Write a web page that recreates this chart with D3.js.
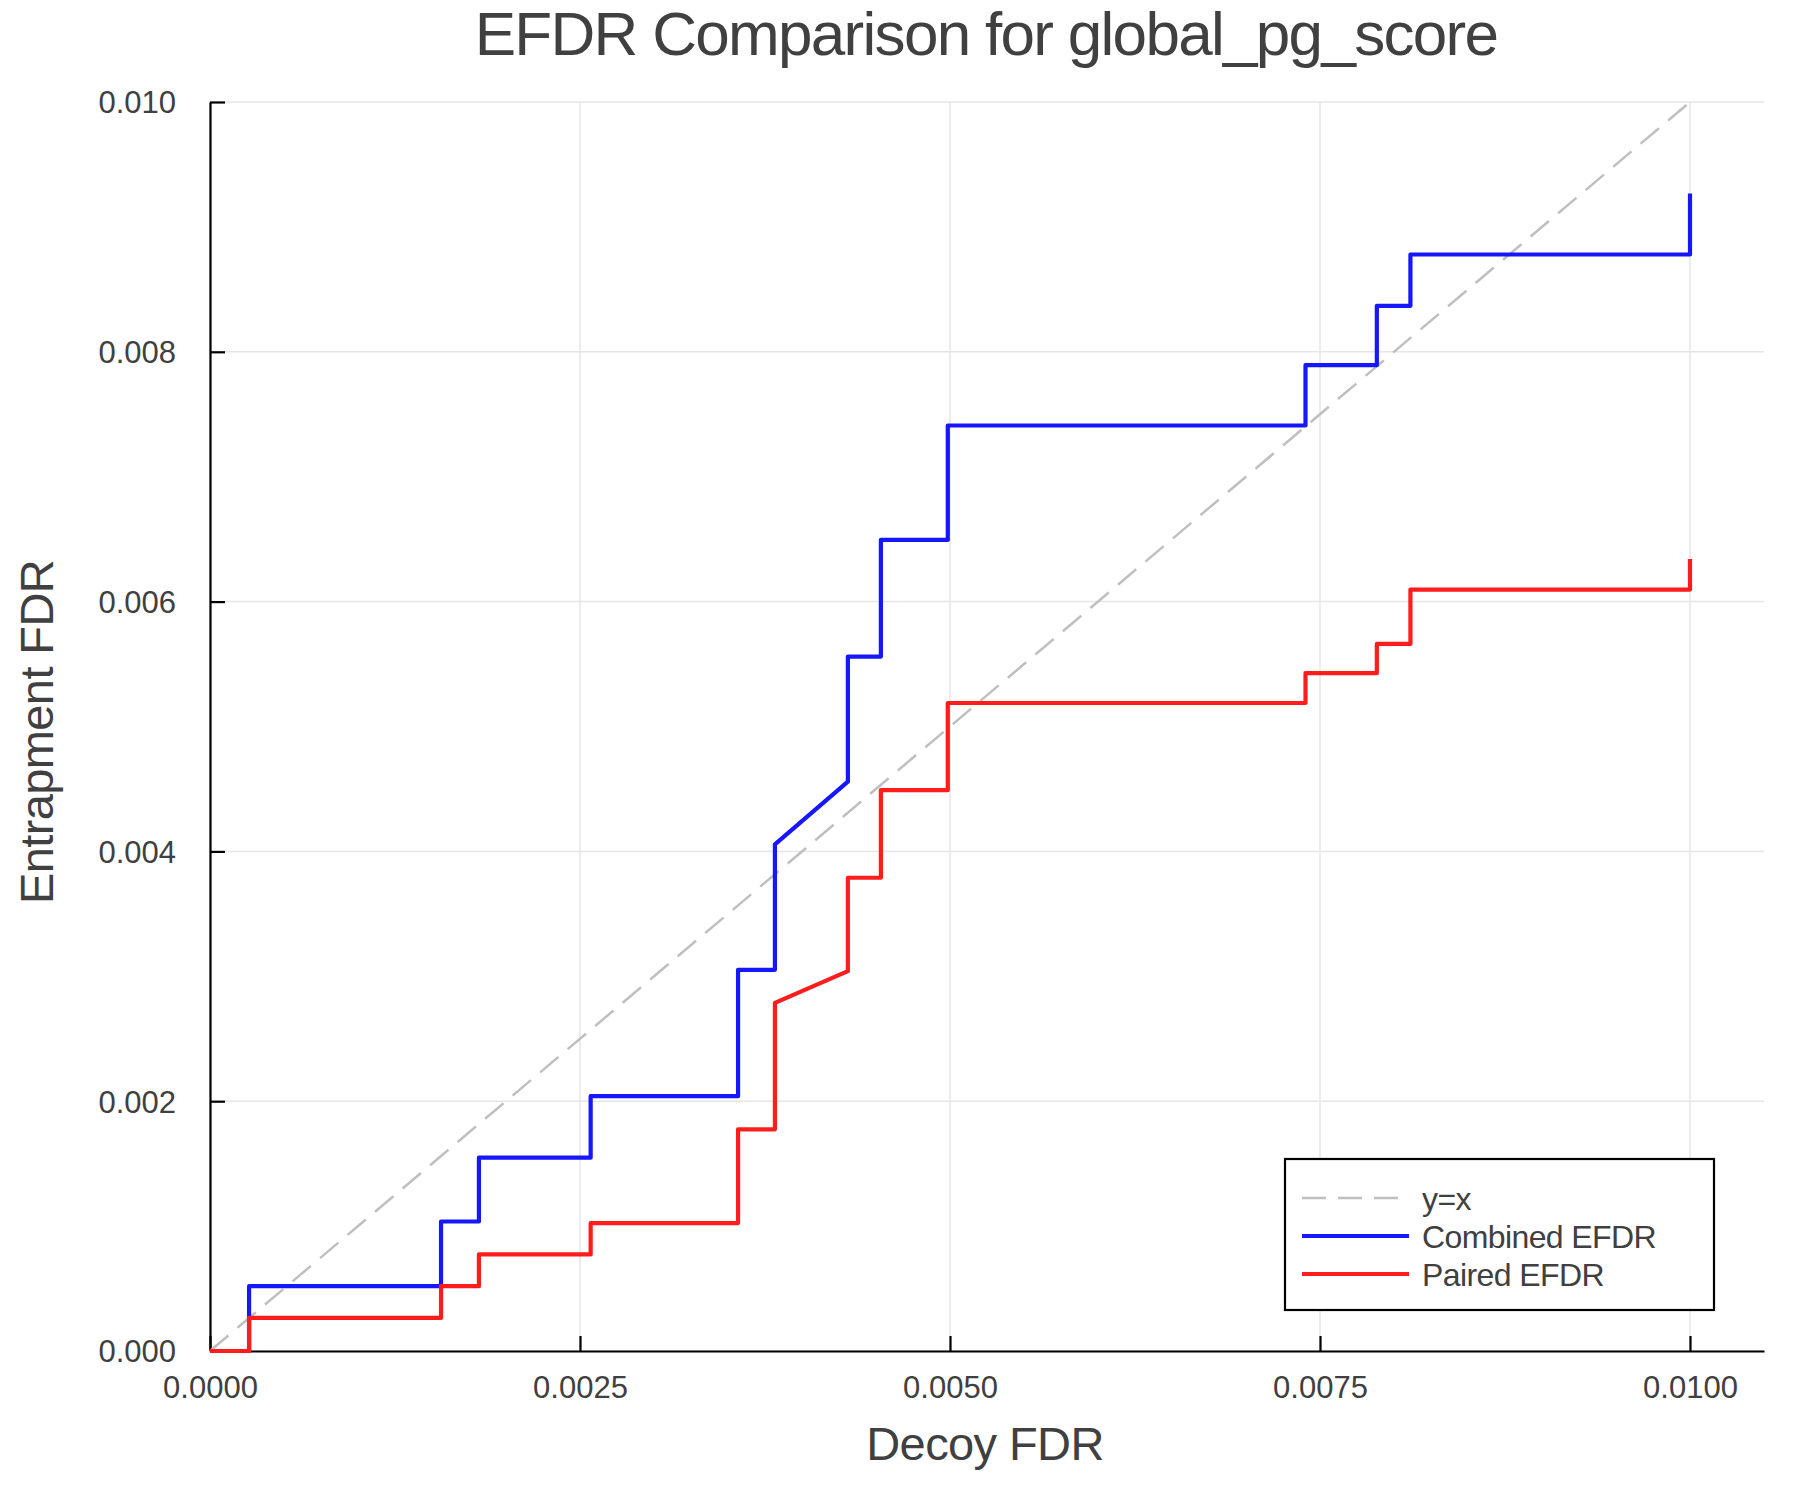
<!DOCTYPE html>
<html>
<head>
<meta charset="utf-8">
<script src="https://cdn.jsdelivr.net/npm/d3@7"></script>
<style>
  body { margin: 0; background: #fff; }
  text { font-family: "Liberation Sans", Arial, Helvetica, sans-serif; fill: #404040; }
</style>
</head>
<body>
<div id="chart"></div>
<script>
const width = 1800;
const height = 1500;
const margin = { top: 102, right: 36, bottom: 149, left: 210 };

// step vertices (shared decoy FDR x positions)
const decoyFdr = [
    0, 0.000264, 0.000264, 0.001561, 0.001561, 0.001817, 0.001817, 0.002572, 0.002572,
    0.003568, 0.003568, 0.003817, 0.003817, 0.004310, 0.004310, 0.004533, 0.004533,
    0.004985, 0.004985, 0.007402, 0.007402, 0.007884, 0.007884, 0.008111, 0.008111,
    0.010000, 0.010000
];
const combinedEfdr = [
    0, 0, 0.000519, 0.000519, 0.001037, 0.001037, 0.001548, 0.001548, 0.002040,
    0.002040, 0.003052, 0.003052, 0.004057, 0.004558, 0.005560, 0.005560, 0.006494,
    0.006494, 0.007410, 0.007410, 0.007893, 0.007893, 0.008368, 0.008368, 0.008779,
    0.008779, 0.009267
];
const pairedEfdr = [
    0, 0, 0.000265, 0.000265, 0.000519, 0.000519, 0.000773, 0.000773, 0.001024,
    0.001024, 0.001775, 0.001775, 0.002787, 0.003041, 0.003789, 0.003789, 0.004490,
    0.004490, 0.005188, 0.005188, 0.005427, 0.005427, 0.005661, 0.005661, 0.006096,
    0.006096, 0.006341
];
const diagonal = [0, 0.01];

const xTicks = [0, 0.0025, 0.005, 0.0075, 0.01];
const yTicks = [0, 0.002, 0.004, 0.006, 0.008, 0.01];

const seriesNames = ["y=x", "Combined EFDR", "Paired EFDR"];
const seriesColors = ["#bfbfbf", "#1616ff", "#ff1c1c"];

const svg = d3.select("#chart")
    .append("svg")
    .attr("width", width)
    .attr("height", height);

svg.append("rect").attr("width", width).attr("height", height).attr("fill", "#fff");

const x = d3.scaleLinear().domain([0, 0.0105]).range([margin.left, width - margin.right]);
const y = d3.scaleLinear().domain([0, 0.01]).range([height - margin.bottom, margin.top]);

// grid
const grid = svg.append("g");
grid.selectAll(".vg").data(xTicks).enter().append("line")
    .attr("x1", d => x(d)).attr("x2", d => x(d))
    .attr("y1", y.range()[1]).attr("y2", y.range()[0])
    .attr("stroke", "#e6e6e6").attr("stroke-width", 1.5);
grid.selectAll(".hg").data(yTicks).enter().append("line")
    .attr("y1", d => y(d)).attr("y2", d => y(d))
    .attr("x1", x.range()[0]).attr("x2", x.range()[1])
    .attr("stroke", "#e6e6e6").attr("stroke-width", 1.5);

// axes
const xAxis = svg.append("g")
    .attr("transform", `translate(0, ${height - margin.bottom})`)
    .call(d3.axisBottom(x).tickValues(xTicks).tickFormat(d3.format(".4f")).tickSize(-15).tickPadding(25).tickSizeOuter(0));
const yAxis = svg.append("g")
    .attr("transform", `translate(${margin.left}, 0)`)
    .call(d3.axisLeft(y).tickValues(yTicks).tickFormat(d3.format(".3f")).tickSize(-15).tickPadding(34).tickSizeOuter(0));

[xAxis, yAxis].forEach(g => {
    g.select(".domain").attr("stroke", "#000").attr("stroke-width", 2.2);
    g.selectAll(".tick line").attr("stroke", "#000").attr("stroke-width", 2.2);
    g.selectAll(".tick text")
        .attr("fill", "#404040")
        .style("font-size", "31px")
        .style("font-family", "'Liberation Sans', Arial, sans-serif");
});
xAxis.selectAll(".tick text").attr("dy", "0.71em");
yAxis.selectAll(".tick text").attr("dy", "0.35em");

// lines
const line = d3.line().x(d => x(d[0])).y(d => y(d[1]));

svg.append("path")
    .datum(diagonal.map(v => [v, v]))
    .attr("fill", "none")
    .attr("stroke", seriesColors[0])
    .attr("stroke-width", 2.5)
    .attr("stroke-dasharray", "24,12")
    .attr("d", line);

[combinedEfdr, pairedEfdr].forEach((vals, i) => {
    svg.append("path")
        .datum(decoyFdr.map((d, j) => [d, vals[j]]))
        .attr("fill", "none")
        .attr("stroke", seriesColors[i + 1])
        .attr("stroke-width", 4.2)
        .attr("stroke-linejoin", "round")
        .attr("d", line);
});

// titles
svg.append("text")
    .attr("x", 986).attr("y", 55)
    .attr("text-anchor", "middle")
    .style("font-size", "62px")
    .style("letter-spacing", "-1.7px")
    .text("EFDR Comparison for global_pg_score");

svg.append("text")
    .attr("x", 985).attr("y", 1460)
    .attr("text-anchor", "middle")
    .style("font-size", "47px")
    .style("letter-spacing", "-0.6px")
    .text("Decoy FDR");

svg.append("text")
    .attr("transform", "translate(53, 732) rotate(-90)")
    .attr("text-anchor", "middle")
    .style("font-size", "47px")
    .style("letter-spacing", "-0.6px")
    .text("Entrapment FDR");

// legend
const legend = svg.append("g");
legend.append("rect")
    .attr("x", 1285).attr("y", 1159)
    .attr("width", 429).attr("height", 151)
    .attr("fill", "#fff").attr("stroke", "#000").attr("stroke-width", 2.2);

seriesNames.forEach((name, i) => {
    const ly = 1198 + i * 38;
    legend.append("line")
        .attr("x1", 1302).attr("x2", 1409)
        .attr("y1", ly).attr("y2", ly)
        .attr("stroke", seriesColors[i])
        .attr("stroke-width", i === 0 ? 2.5 : 4.2)
        .attr("stroke-dasharray", i === 0 ? "24,12" : null);
    legend.append("text")
        .attr("x", 1422).attr("y", ly)
        .attr("dy", "0.36em")
        .style("font-size", "32px")
        .style("letter-spacing", "-0.6px")
        .text(name);
});
</script>
</body>
</html>
